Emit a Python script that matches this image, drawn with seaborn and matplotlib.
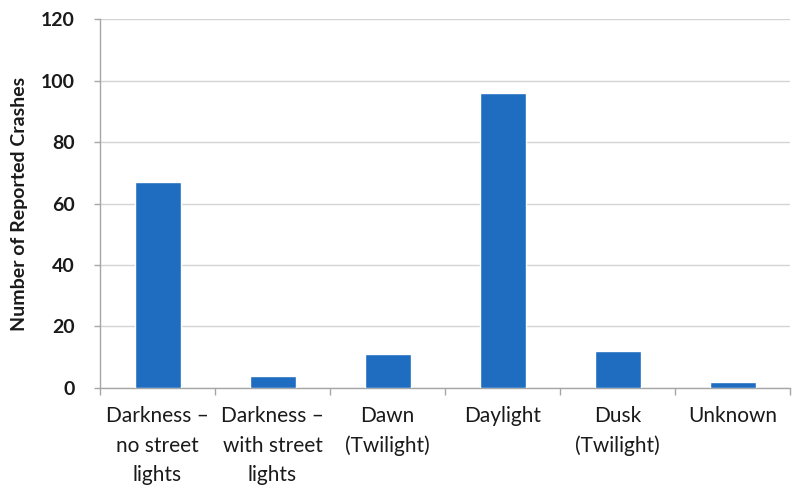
import matplotlib
matplotlib.use("Agg")
import matplotlib.pyplot as plt
import seaborn as sns
import pandas as pd
import numpy as np

# Reported crashes by light condition
conditions = [
    "Darkness –\nno street\nlights",
    "Darkness –\nwith street\nlights",
    "Dawn\n(Twilight)",
    "Daylight",
    "Dusk\n(Twilight)",
    "Unknown",
]
crashes = [67, 4, 11, 96, 12, 2]
y_ticks = [0, 20, 40, 60, 80, 100, 120]

df = pd.DataFrame({"condition": conditions, "crashes": crashes})

sns.set_theme(style="white")
plt.rcParams["font.family"] = ["Lato", "DejaVu Sans"]

fig = plt.figure(figsize=(8, 4.91), dpi=100)
ax = fig.add_axes([0.125, 0.21, 0.8625, 0.751])

sns.barplot(data=df, x="condition", y="crashes", color="#1f6dc0",
            width=0.4, saturation=1, ax=ax, zorder=3)

ax.set_ylim(0, 120)
ax.set_yticks(y_ticks)
ax.set_xlim(-0.5, len(conditions) - 0.5)
ax.yaxis.grid(True, color="#d4d4d4", linewidth=1, zorder=0)
ax.xaxis.grid(False)

for side in ("top", "right"):
    ax.spines[side].set_visible(False)
for side in ("left", "bottom"):
    ax.spines[side].set_color("#a6a6a6")
    ax.spines[side].set_linewidth(1)

# Category boundaries carry the bottom tick marks
ax.set_xticks(np.arange(-0.5, len(conditions)), minor=True)
ax.tick_params(axis="x", which="minor", length=5, width=1, color="#a6a6a6",
               direction="out", bottom=True)
ax.tick_params(axis="x", which="major", length=0, pad=13)
ax.tick_params(axis="y", length=4, width=1, color="#a6a6a6", left=True, pad=14)

ax.set_xlabel("")
ax.set_ylabel("Number of Reported Crashes", fontsize=14, fontweight="bold",
              color="#1a1a1a", labelpad=9)

for lbl in ax.get_xticklabels():
    lbl.set_fontsize(15)
    lbl.set_color("#1a1a1a")
    lbl.set_linespacing(1.6)
    lbl.set_verticalalignment("top")
for lbl in ax.get_yticklabels():
    lbl.set_fontsize(14)
    lbl.set_fontweight("bold")
    lbl.set_color("#1a1a1a")

fig.savefig("out.png", dpi=100)
